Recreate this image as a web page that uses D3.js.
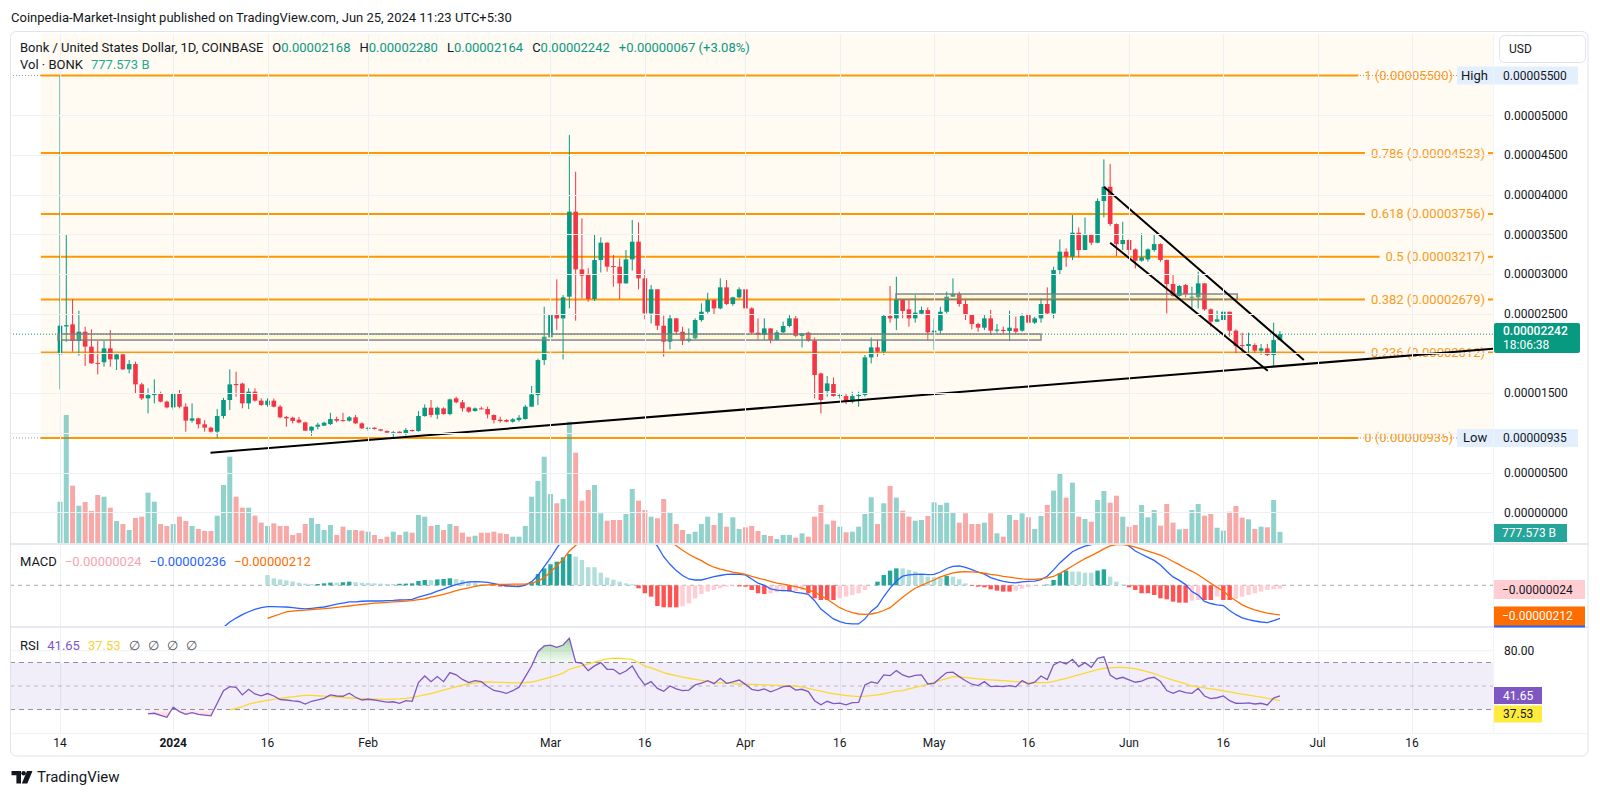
<!DOCTYPE html>
<html><head><meta charset="utf-8">
<script src="https://cdn.jsdelivr.net/npm/d3@7"></script>
<style>
html,body{margin:0;padding:0;background:#fff;}
svg{display:block;font-family:Roboto,"Noto Sans",Arial,sans-serif;}
</style></head><body>
<svg id="chart" width="1600" height="796"></svg>
<script>
// ---------- DATA (prices in units of 1e-8 USD, volume in billions BONK) ----------
const UNIT = 1e-8;
const startDay = [2023, 11, 14]; // first candle: 14 Dec 2023, daily candles
const openE8 = [1988,2340,2366,2156,2273,2085,1880,1888,2063,1925,
1988,1799,1866,1610,1434,1476,1490,1392,1320,1497,
1329,1153,1182,1107,1065,1014,1211,1413,1615,1620,
1371,1518,1405,1350,1405,1329,1200,1190,1165,1130,
1027,1077,1090,1110,1173,1160,1152,1195,1119,1050,
1064,1043,1022,1002,1014,985,1035,1022,1211,1316,
1228,1308,1236,1434,1384,1320,1274,1308,1300,1224,
1165,1161,1140,1161,1174,1329,1476,1916,2202,2483,
2441,2714,3785,3058,3000,2685,3176,3394,3100,3092,
2882,3184,3407,2945,2504,2807,2349,2148,2441,2273,
2160,2190,2420,2525,2672,2567,2832,2622,2706,2807,
2567,2261,2232,2315,2169,2265,2345,2441,2219,2261,
2160,1748,1526,1614,1463,1463,1392,1463,1476,1950,
2076,2022,2471,2441,2680,2555,2441,2500,2546,2265,
2286,2525,2714,2748,2622,2483,2370,2324,2441,2286,
2296,2282,2315,2286,2483,2387,2441,2622,2504,3050,
3281,3218,3520,3302,3490,3394,3919,4099,3629,3377,
3428,3310,3168,3184,3302,3377,3176,2874,2723,2861,
2706,2706,2882,2555,2399,2420,2525,2286,2105,2093,
2106,2034,2064,1980,2168];
const highE8 = [5500,3490,2681,2538,2336,2303,2156,2156,2294,2000,
2000,1917,1896,1631,1560,1673,1518,1405,1505,1539,
1371,1371,1190,1161,1077,1300,1440,1799,1770,1631,
1560,1560,1434,1434,1430,1350,1211,1203,1200,1140,
1080,1127,1140,1253,1203,1253,1211,1224,1131,1077,
1070,1048,1030,1022,1018,1060,1040,1274,1358,1413,
1329,1320,1430,1455,1413,1329,1320,1329,1329,1232,
1203,1170,1186,1224,1350,1589,1933,2588,2622,2932,
2735,4750,4288,3701,3071,3503,3461,3400,3239,3197,
3302,3680,3650,3058,2861,2807,2475,2483,2441,2336,
2315,2441,2630,2764,2680,2945,2924,2714,2832,2819,
2580,2441,2441,2315,2294,2400,2483,2471,2253,2273,
2202,1757,1715,1698,1497,1497,1518,1518,1980,2202,
2177,2483,2849,2966,2680,2672,2735,2588,2580,2441,
2588,2777,2945,2777,2672,2483,2387,2483,2546,2370,
2337,2538,2462,2504,2513,2462,2693,2832,3092,3436,
3323,3743,3587,3713,3503,3952,4444,4385,3637,3658,
3436,3323,3512,3323,3503,3386,3184,2987,2861,2874,
2840,3029,2882,2567,2538,2546,2525,2303,2261,2261,
2127,2118,2118,2387,2280];
const lowE8 = [1547,2147,2022,1971,1841,1870,1736,1833,1833,1791,
1791,1749,1497,1413,1245,1371,1383,1308,1287,1308,
1014,1128,1056,1014,1002,935,1180,1287,1455,1308,
1300,1392,1340,1329,1320,1182,1077,1119,1119,1022,
962,1043,1090,1098,1132,1140,1140,1110,1048,1022,
1040,1020,995,940,985,970,1014,1014,1203,1195,
1174,1228,1220,1371,1266,1253,1266,1295,1182,1119,
1127,1132,1127,1140,1165,1329,1350,1853,2076,2294,
1925,2567,2412,2693,2651,2660,3020,3029,2840,2685,
2880,3042,2807,2429,2378,2294,1958,2051,2231,2106,
2140,2177,2400,2504,2483,2555,2609,2600,2693,2483,
2253,2177,2168,2127,2160,2253,2328,2202,2076,2148,
1434,1245,1455,1455,1434,1363,1371,1329,1455,1874,
1958,1980,2387,2294,2441,2337,2387,2483,2168,2043,
2253,2504,2714,2588,2420,2303,2273,2294,2231,2261,
2253,2160,2253,2273,2370,2370,2387,2483,2441,3000,
3092,3176,3210,3302,3365,3386,3713,3604,3226,3302,
3239,3071,3155,3155,3281,3155,2504,2714,2714,2706,
2546,2567,2538,2337,2399,2420,2210,2001,2001,2001,
2001,1980,1967,1833,2164];
const closeE8 = [2349,2356,2156,2273,2085,1875,1870,2063,1925,1988,
1799,1866,1610,1434,1476,1490,1392,1320,1497,1329,
1153,1182,1107,1065,1014,1211,1413,1610,1600,1371,
1518,1405,1350,1405,1329,1195,1182,1150,1130,1027,
1077,1102,1127,1173,1152,1152,1195,1119,1056,1064,
1048,1027,1002,1006,993,1035,1022,1211,1316,1224,
1316,1236,1421,1384,1308,1266,1308,1300,1232,1161,
1148,1140,1170,1190,1329,1484,1916,2210,2483,2441,
2706,3785,3058,2979,2685,3176,3394,3092,3092,2882,
3184,3407,2945,2504,2807,2349,2148,2441,2273,2160,
2185,2420,2525,2672,2567,2832,2622,2706,2807,2567,
2261,2232,2315,2169,2265,2345,2441,2219,2250,2160,
1728,1413,1622,1463,1476,1392,1463,1476,1950,2076,
2022,2471,2441,2680,2534,2441,2513,2546,2265,2286,
2525,2714,2748,2622,2483,2370,2324,2441,2286,2300,
2282,2324,2273,2471,2387,2441,2622,2504,3050,3281,
3218,3520,3302,3490,3394,3919,4099,3629,3377,3428,
3302,3168,3210,3310,3377,3176,2874,2723,2849,2748,
2714,2882,2555,2399,2429,2525,2286,2093,2093,2118,
2034,2064,1980,2168,2242];
const volumeB = [2891,8960,4011,2611,2870,2240,3360,3241,2471,1540,
1330,910,1750,1841,3521,2891,1330,1190,1330,1841,
1540,1190,980,840,840,1911,4060,6041,3241,2471,
2471,1911,1421,1190,1379,1190,1190,560,700,1330,
1750,1330,910,1260,560,1141,910,910,861,791,
560,280,441,791,560,791,721,1960,1841,1190,
1260,910,1330,1190,721,441,511,721,721,791,
679,630,441,441,1190,3241,4340,6041,3430,2779,
3080,8491,6321,2961,3710,4060,2079,1561,1610,1610,
2030,3780,2961,2310,1841,1729,3080,2149,1330,910,
630,791,1330,1841,1260,2149,1141,1799,980,1099,
1190,840,560,490,280,560,560,371,679,441,
1841,2660,1309,1561,1141,749,791,1141,2030,3199,
1330,2779,3990,3171,2261,1841,1561,1610,1890,2849,
2660,2821,2149,1421,2079,1330,1330,1421,2079,679,
441,1960,1610,2079,1799,980,1890,2660,3661,4879,
3171,4221,1841,1680,1491,3010,3640,2821,3311,1841,
1141,1260,2660,1799,2310,1211,2730,1421,959,980,
2310,2730,1911,2030,1071,861,2191,2590,1771,1659,
980,1141,1099,3010,777.573];

// MACD (12,26,9) in units of 1e-8
const macdStart = 25;
const macdE8 = [-330,-300,-262,-234,-210,-189,-172,-160,-153,-152,
-154,-155,-160,-165,-169,-165,-160,-155,-145,-135,
-127,-118,-118,-114,-112,-111,-112,-110,-108,-105,
-104,-100,-85,-72,-60,-42,-28,-10,5,16,
24,26,25,21,12,3,-4,-8,-10,2,
26,70,133,195,265,330,450,480,500,485,
515,500,480,475,466,454,445,409,358,330,
280,204,150,105,70,45,38,38,50,62,
70,78,79,78,74,45,15,0,-25,-35,
-38,-38,-50,-56,-65,-110,-170,-205,-240,-260,
-272,-276,-276,-240,-185,-150,-80,-20,30,65,
75,78,80,76,78,95,120,135,138,128,
112,95,80,55,40,28,21,18,25,28,
30,40,65,110,160,200,240,262,280,290,
330,370,360,330,310,280,245,222,200,178,
145,100,60,35,5,-45,-70,-115,-130,-140,
-145,-180,-210,-232,-246,-255,-262,-266,-252,-236];
const signalStart = 33;
const signalE8 = [-236,-220,-205,-190,-184,-180,-177,-173,-170,-167,
-163,-158,-153,-148,-142,-137,-132,-128,-125,-122,
-119,-116,-113,-110,-103,-96,-85,-75,-64,-52,
-38,-28,-18,-8,-1,3,5,6,7,8,
8,9,15,30,55,95,140,185,245,285,
320,350,380,405,420,430,436,440,440,432,
418,398,370,345,315,282,250,222,198,176,
150,129,115,104,94,86,78,64,52,40,
28,16,8,0,-10,-20,-32,-50,-75,-100,
-130,-160,-180,-195,-205,-208,-205,-195,-180,-160,
-122,-85,-52,-21,0,20,38,60,75,88,
95,98,96,92,86,78,72,64,58,52,
46,43,43,47,53,63,85,110,138,165,
190,212,235,260,282,290,290,284,272,258,
244,230,216,195,170,148,122,100,75,45,
15,-15,-42,-80,-110,-140,-160,-175,-188,-198,
-206,-212];
const histStart = 33;
const histE8 = [73,50,42,35,27,18,12,8,9,14,
19,19,22,26,22,18,16,14,12,10,
10,11,12,14,31,38,38,42,45,50,
45,38,28,16,9,3,-4,-9,-10,-10,
-10,-2,19,80,121,150,169,200,224,205,
181,129,129,90,55,40,26,14,7,-21,
-57,-81,-148,-157,-157,-157,-150,-129,-93,-62,
-45,-33,-21,-10,-7,-8,-10,-33,-57,-62,
-57,-50,-45,-45,-40,-33,-57,-93,-105,-105,
-105,-93,-81,-70,-57,-33,0,26,74,105,
121,121,110,98,79,62,57,57,67,62,
43,14,-5,-10,-14,-29,-38,-45,-45,-38,
-24,-14,-5,0,5,38,86,105,98,98,
90,90,105,114,62,26,5,-14,-33,-57,
-57,-69,-93,-100,-117,-124,-124,-110,-105,-105,
-105,-80,-105,-105,-95,-81,-69,-57,-45,-33,
-28,-24];

// RSI(14) and its moving average
const rsiStart = 14;
const rsiValues = [26.2,26.8,25.0,23.4,31.9,28.2,25.8,27.3,25.9,25.3,
24.6,35.3,46.0,49.5,48.8,42.4,47.2,43.2,41.6,43.6,
41.5,38.5,38.1,37.3,36.8,34.6,37.0,38.1,39.5,42.4,
41.5,41.3,43.8,40.4,38.1,38.7,38.1,37.2,36.2,36.6,
35.3,37.5,37.0,52.9,58.5,53.7,58.0,53.7,61.4,59.5,
55.6,52.9,54.6,53.7,49.5,46.2,45.2,43.8,46.0,49.0,
58.0,67.0,79.2,84.1,84.8,82.9,84.9,90.6,70.2,69.3,
63.1,67.1,69.9,64.2,64.2,60.2,62.8,67.1,58.0,50.9,
53.7,48.0,45.5,50.0,47.5,46.0,46.5,50.9,52.5,54.5,
52.0,56.6,52.3,53.5,55.1,51.4,47.2,46.1,47.5,45.0,
47.0,49.5,50.0,46.5,47.2,45.2,37.5,34.0,37.0,35.0,
35.5,33.9,35.8,36.0,50.9,53.5,52.3,59.4,58.8,63.1,
59.4,57.5,59.0,59.4,51.7,52.3,57.0,61.4,61.8,58.0,
54.5,51.5,50.4,53.7,49.5,49.9,49.5,50.3,49.3,54.6,
51.7,53.2,58.5,55.5,67.9,70.7,68.8,72.7,66.5,69.9,
65.9,73.6,74.8,59.4,56.0,57.4,55.3,53.2,54.2,56.5,
57.4,53.8,46.1,43.8,46.1,44.3,43.8,48.0,41.5,39.2,
40.0,41.5,37.5,35.3,35.2,35.6,34.7,35.3,33.9,39.7,
41.65];
const rsiMaStart = 27;
const rsiMaValues = [29.6,31,32.5,34.5,35.8,36.8,37.8,38.6,39.5,40.2,
40.8,41.5,42.1,42,41.7,41.3,41,40.6,40.2,39.8,
39.5,39.2,39,38.8,38.7,38.7,38.8,39,39.4,40.2,
41.3,42.4,43.6,45,46.5,48,49.5,50.7,51.7,52.5,
53.2,53.4,53.3,53.1,52.9,52.7,52.6,52.9,53.4,54.5,
56,57.6,59,61,64.2,65.8,67.3,68.8,70.3,71.8,
73,73.6,73.6,73,72.6,70,67,65.5,63.5,61.4,
60,58.8,57.6,56.6,55.6,54.8,54,52.9,52.6,52.3,
52,51.7,51.5,51.3,51.1,50.9,50.7,50.5,50.3,50.2,
50,49.2,48,46.8,45.6,44.4,43.4,42.6,41.9,41.4,
41,41.3,41.8,42.4,43.4,44.6,45.6,46.1,47.5,48.8,
50.2,51.7,53.2,54.7,56.2,58,57.8,57.3,56.6,56.1,
55.6,55.2,54.9,54.6,54.2,53.8,53.4,52.9,52.9,52.9,
52.9,54,55.2,56.5,58,59.5,61,62.5,64,65.1,
65.5,65.8,65.9,65.4,64.6,63.5,62,60.5,58.5,56.6,
55,53.5,51.8,50,49.2,48.4,47.6,46.8,45.9,45,
44,43,42.2,41.4,40.6,39.5,38.7,37.53];

// Fibonacci retracement levels
const fibRatios = ["1","0.786","0.618","0.5","0.382","0.236","0"];
const fibPricesE8 = [5500,4523,3756,3217,2679,2012,935];

// Drawings (day index from first candle, price in 1e-8)
const supportLine = {days:[23.93,227.9], prices:[749,2058]};
const channelUpper = {days:[166,197.8], prices:[4099,1917]};
const channelLower = {days:[167,192.06], prices:[3394,1782]};
const zoneDays = [[-0.3,156.0],[132.95,187.2]];
const zonePrices = [[2168,2244],[2681,2748]];

// Axis ticks
const xTickDates = ["2023-12-14","2024-01-01","2024-01-16","2024-02-01","2024-03-01","2024-03-16","2024-04-01","2024-04-16","2024-05-01","2024-05-16","2024-06-01","2024-06-16","2024-07-01","2024-07-16"];
const xTickLabels = ["14","2024","16","Feb","Mar","16","Apr","16","May","16","Jun","16","Jul","16"];
const priceTicksE8 = [0,500,1500,2500,3000,3500,4000,4500,5000];

// ---------- LAYOUT ----------
const PL=10, PR=1493, AXR=1588;
const MAIN_T=34, MAIN_B=544, MACD_T=544, MACD_B=627, RSI_T=627, RSI_B=733, FRAME_B=756;
const DAY=864e5, T0=Date.UTC(startDay[0],startDay[1],startDay[2]);
const dateOf = d => new Date(T0 + d*DAY);
const x = d3.scaleUtc().domain([dateOf(0), new Date(Date.UTC(2024,6,16))]).range([60,1412]);
const yP = d3.scaleLinear().domain([0,5500*UNIT]).range([512.2,75.5]);
const yV = d3.scaleLinear().domain([0,10000]).range([543,543-142.86]);
const yM = d3.scaleLinear().domain([-300*UNIT,300*UNIT]).range([627.3,543.3]);
const yR = d3.scaleLinear().domain([10,100]).range([733,627.25]);
const xd = d => x(dateOf(d));

const GREEN="#089981", RED="#F23645", TXT="#131722";
const svg = d3.select("#chart");
const defs = svg.append("defs");
function clip(id,x0,y0,x1,y1){defs.append("clipPath").attr("id",id).append("rect").attr("x",x0).attr("y",y0).attr("width",x1-x0).attr("height",y1-y0);}
clip("cMain",PL,MAIN_T,PR,MAIN_B);
clip("cMacd",PL,MACD_T+1,PR,MACD_B);
clip("cRsi",PL,RSI_T+1,PR,RSI_B);
clip("cOB",PL,RSI_T,PR,yR(70));
clip("cOS",PL,yR(30),PR,RSI_B);

svg.append("rect").attr("width",1600).attr("height",796).attr("fill","#fff");

// Header
svg.append("text").attr("x",11).attr("y",17).attr("dominant-baseline","central")
  .attr("font-size",13).attr("fill",TXT)
  .text("Coinpedia-Market-Insight published on TradingView.com, Jun 25, 2024 11:23 UTC+5:30");

// Cream background of fib drawing
const gMain = svg.append("g").attr("clip-path","url(#cMain)");
gMain.append("rect").attr("x",xd(-3.05)).attr("y",MAIN_T).attr("width",PR-xd(-3.05))
  .attr("height",yP(935*UNIT)-MAIN_T).attr("fill","#fffaf2");

// grid
const grid = svg.append("g");
xTickDates.forEach(s=>{
  const xx = Math.round(x(new Date(s+"T00:00:00Z")))+0.5;
  grid.append("line").attr("x1",xx).attr("x2",xx).attr("y1",MAIN_T).attr("y2",RSI_B).attr("stroke","#eef0f4").attr("stroke-width",1);
});
priceTicksE8.concat([1000,2000]).forEach(v=>{
  const yy=Math.round(yP(v*UNIT))+0.5;
  grid.append("line").attr("x1",PL).attr("x2",PR).attr("y1",yy).attr("y2",yy).attr("stroke","#eef0f4");
});

// dotted High / Low lines
[5500,935].forEach(v=>{
  gMain.append("line").attr("x1",PL).attr("x2",PR).attr("y1",yP(v*UNIT)).attr("y2",yP(v*UNIT))
   .attr("stroke","#9598a1").attr("stroke-dasharray","1,2");
});

// fib lines + labels (labels of the 1 and 0 levels end before the High/Low tags)
const fibG = gMain.append("g");
fibPricesE8.forEach((v,k)=>{
  const yy = yP(v*UNIT);
  const edge = (k===0 || k===fibPricesE8.length-1) ? 1453 : 1485;
  const t = fibG.append("text").attr("x",edge).attr("y",yy).attr("dominant-baseline","central")
    .attr("text-anchor","end").attr("font-size",13).attr("fill","#f89c1c")
    .text(fibRatios[k]+" ("+(v*UNIT).toFixed(8)+")");
  const w = t.node().getComputedTextLength();
  fibG.append("line").attr("x1",xd(-3.05)).attr("x2",edge-w-6).attr("y1",yy).attr("y2",yy)
    .attr("stroke","#FF9800").attr("stroke-width",2);
  if (edge===1485) fibG.append("line").attr("x1",1488).attr("x2",PR).attr("y1",yy).attr("y2",yy)
    .attr("stroke","#FF9800").attr("stroke-width",2);
});

// volume
const n = closeE8.length;
const idx = d3.range(n);
gMain.append("g").selectAll("rect").data(idx).join("rect")
  .attr("x",i=>xd(i)-2.5).attr("width",5)
  .attr("y",i=>yV(volumeB[i])).attr("height",i=>yV(0)-yV(volumeB[i]))
  .attr("fill",i=>closeE8[i]>=openE8[i]?"rgba(38,166,154,0.5)":"rgba(239,83,80,0.5)");

// last price dotted line
gMain.append("line").attr("x1",PL).attr("x2",PR).attr("y1",yP(2242*UNIT)).attr("y2",yP(2242*UNIT))
  .attr("stroke",GREEN).attr("stroke-dasharray","1,2");

// candles
const cg = gMain.append("g");
cg.selectAll("rect.w").data(idx).join("rect").attr("class","w")
  .attr("x",i=>xd(i)-0.5).attr("width",1)
  .attr("y",i=>yP(highE8[i]*UNIT)).attr("height",i=>yP(lowE8[i]*UNIT)-yP(highE8[i]*UNIT))
  .attr("fill",i=>closeE8[i]>=openE8[i]?GREEN:RED);
cg.selectAll("rect.b").data(idx).join("rect").attr("class","b")
  .attr("x",i=>xd(i)-2.3).attr("width",4.6)
  .attr("y",i=>yP(Math.max(openE8[i],closeE8[i])*UNIT))
  .attr("height",i=>Math.max(1,Math.abs(yP(openE8[i]*UNIT)-yP(closeE8[i]*UNIT))))
  .attr("fill",i=>closeE8[i]>=openE8[i]?GREEN:RED);

// zones
zoneDays.forEach((d,k)=>{
  const p=zonePrices[k];
  gMain.append("rect").attr("x",xd(d[0])).attr("width",xd(d[1])-xd(d[0]))
    .attr("y",yP(p[1]*UNIT)).attr("height",yP(p[0]*UNIT)-yP(p[1]*UNIT))
    .attr("fill","rgba(255,241,118,0.2)").attr("stroke","rgba(120,123,134,0.85)").attr("stroke-width",1.6);
});

// trend lines
[supportLine,channelUpper,channelLower].forEach(L=>{
  gMain.append("line").attr("x1",xd(L.days[0])).attr("y1",yP(L.prices[0]*UNIT))
    .attr("x2",xd(L.days[1])).attr("y2",yP(L.prices[1]*UNIT))
    .attr("stroke","#000").attr("stroke-width",2);
});

// ---------- MACD pane ----------
const gM = svg.append("g").attr("clip-path","url(#cMacd)");
gM.append("line").attr("x1",PL).attr("x2",PR).attr("y1",yM(0)).attr("y2",yM(0))
  .attr("stroke","#9598a1").attr("stroke-dasharray","4,4").attr("opacity",0.8);
gM.selectAll("rect").data(histE8).join("rect")
  .attr("x",(v,k)=>xd(histStart+k)-2.2).attr("width",4.4)
  .attr("y",v=>yM(Math.max(v,0)*UNIT)).attr("height",v=>Math.abs(yM(v*UNIT)-yM(0)))
  .attr("fill",(v,k)=>{const p=k>0?histE8[k-1]:v; if(v>=0) return p<v?"#26A69A":"#B2DFDB"; return p<v?"#FFCDD2":"#FF5252";});
const lineM = d3.line().x(d=>xd(d[0])).y(d=>yM(d[1]*UNIT));
gM.append("path").attr("d",lineM(macdE8.map((v,k)=>[macdStart+k,v]))).attr("fill","none").attr("stroke","#2962FF").attr("stroke-width",1.3);
gM.append("path").attr("d",lineM(signalE8.map((v,k)=>[signalStart+k,v]))).attr("fill","none").attr("stroke","#FF6D00").attr("stroke-width",1.3);

// ---------- RSI pane ----------
const gR = svg.append("g").attr("clip-path","url(#cRsi)");
gR.append("line").attr("x1",PL).attr("x2",PR).attr("y1",yR(80)).attr("y2",yR(80)).attr("stroke","#eef0f4");
gR.append("rect").attr("x",PL).attr("width",PR-PL).attr("y",yR(70)).attr("height",yR(30)-yR(70)).attr("fill","rgba(126,87,194,0.1)");
[70,50,30].forEach(v=>{
  gR.append("line").attr("x1",PL).attr("x2",PR).attr("y1",yR(v)).attr("y2",yR(v))
   .attr("stroke","#787B86").attr("stroke-dasharray",v===50?"4,4":"5,4").attr("opacity",v===50?0.45:0.8);
});
const gradOB = defs.append("linearGradient").attr("id","gOB").attr("gradientUnits","userSpaceOnUse").attr("x1",0).attr("x2",0).attr("y1",yR(92)).attr("y2",yR(70));
gradOB.append("stop").attr("offset",0).attr("stop-color","rgba(76,175,80,0.55)");
gradOB.append("stop").attr("offset",1).attr("stop-color","rgba(76,175,80,0.05)");
const gradOS = defs.append("linearGradient").attr("id","gOS").attr("gradientUnits","userSpaceOnUse").attr("x1",0).attr("x2",0).attr("y1",yR(30)).attr("y2",yR(20));
gradOS.append("stop").attr("offset",0).attr("stop-color","rgba(242,54,69,0.05)");
gradOS.append("stop").attr("offset",1).attr("stop-color","rgba(242,54,69,0.35)");
const rsiPts = rsiValues.map((v,k)=>[rsiStart+k,v]);
gR.append("path").attr("clip-path","url(#cOB)").attr("fill","url(#gOB)")
  .attr("d",d3.area().x(d=>xd(d[0])).y0(yR(70)).y1(d=>yR(d[1]))(rsiPts));
gR.append("path").attr("clip-path","url(#cOS)").attr("fill","url(#gOS)")
  .attr("d",d3.area().x(d=>xd(d[0])).y0(yR(30)).y1(d=>yR(d[1]))(rsiPts));
const lineR = d3.line().x(d=>xd(d[0])).y(d=>yR(d[1]));
gR.append("path").attr("d",lineR(rsiMaValues.map((v,k)=>[rsiMaStart+k,v]))).attr("fill","none").attr("stroke","#FDD835").attr("stroke-width",1.3);
gR.append("path").attr("d",lineR(rsiPts)).attr("fill","none").attr("stroke","#7E57C2").attr("stroke-width",1.3);

// ---------- separators & frame ----------
[MACD_T,RSI_T].forEach(yy=>svg.append("line").attr("x1",PL).attr("x2",AXR).attr("y1",yy).attr("y2",yy).attr("stroke","#e6e9ef").attr("stroke-width",2));
svg.append("line").attr("x1",PL).attr("x2",AXR).attr("y1",RSI_B+0.5).attr("y2",RSI_B+0.5).attr("stroke","#f0f3fa");
svg.append("line").attr("x1",PR+0.5).attr("x2",PR+0.5).attr("y1",MAIN_T).attr("y2",RSI_B).attr("stroke","#f0f3fa");
svg.append("rect").attr("x",10.5).attr("y",31.5).attr("width",AXR-10.5).attr("height",FRAME_B-31.5)
  .attr("rx",6).attr("fill","none").attr("stroke","#e0e3eb");

// ---------- price axis ----------
const yAxis = d3.axisRight(yP).tickValues(priceTicksE8.map(v=>v*UNIT)).tickFormat(d=>d.toFixed(8)).tickSize(0).tickPadding(11);
const axG = svg.append("g").attr("transform",`translate(${PR},0)`).call(yAxis);
axG.select(".domain").remove();
axG.selectAll("text").attr("font-size",12).attr("fill",TXT).attr("font-family","Roboto, sans-serif");

function box(x0,yc,w,h,bg,fg,txt,opts={}){
  const g=svg.append("g");
  g.append("rect").attr("x",x0).attr("y",yc-h/2).attr("width",w).attr("height",h).attr("fill",bg).attr("rx",opts.rx||0);
  g.append("text").attr("x",x0+(opts.pad||10)).attr("y",yc).attr("dominant-baseline","central").attr("font-size",opts.fs||12)
    .attr("fill",fg).attr("font-weight",opts.fw||400).text(txt);
  return g;
}
// USD
svg.append("rect").attr("x",1499.5).attr("y",35.5).attr("width",86).attr("height",27).attr("rx",5).attr("fill","#fff").attr("stroke","#e0e3eb");
svg.append("text").attr("x",1509).attr("y",49).attr("dominant-baseline","central").attr("font-size",12).attr("fill",TXT).text("USD");
// High/Low
box(1457,yP(5500*UNIT),36,18,"#e3effd",TXT,"High",{pad:4,fs:13});
box(1494,yP(5500*UNIT),84,18,"#e3effd",TXT,"0.00005500",{pad:9});
box(1457,yP(935*UNIT),36,18,"#e3effd",TXT,"Low",{pad:6,fs:13});
box(1494,yP(935*UNIT),84,18,"#e3effd",TXT,"0.00000935",{pad:9});
// last price
svg.append("rect").attr("x",1494).attr("y",323).attr("width",86).attr("height",30).attr("rx",2).attr("fill",GREEN);
svg.append("text").attr("x",1503).attr("y",331).attr("dominant-baseline","central").attr("font-size",12).attr("fill","#fff").attr("font-weight",500).text("0.00002242");
svg.append("text").attr("x",1503).attr("y",345).attr("dominant-baseline","central").attr("font-size",12).attr("fill","#fff").text("18:06:38");
// volume
box(1494,533,73,18,"#26a69a","#fff","777.573 B",{pad:8});
// MACD labels
box(1494,589.5,91,19,"#FFCDD2",TXT,"\u22120.00000024",{pad:8});
svg.append("rect").attr("x",1494).attr("y",625).attr("width",91).attr("height",2.5).attr("fill","#2962FF");
box(1494,616,91,19,"#FF6D00","#fff","\u22120.00000212",{pad:8});
// RSI labels
svg.append("text").attr("x",1504).attr("y",yR(80)).attr("dominant-baseline","central").attr("font-size",12).attr("fill",TXT).text("80.00");
box(1494,695.5,48,17,"#7E57C2","#fff","41.65",{pad:9});
box(1494,714,48,17,"#FFEB3B",TXT,"37.53",{pad:9});

// ---------- x axis ----------
xTickDates.forEach((s,k)=>{
  svg.append("text").attr("x",x(new Date(s+"T00:00:00Z"))).attr("y",743).attr("text-anchor","middle")
   .attr("dominant-baseline","central").attr("font-size",12).attr("fill",TXT)
   .attr("font-weight",xTickLabels[k]==="2024"?700:400).text(xTickLabels[k]);
});

// ---------- legends ----------
const l1 = svg.append("text").attr("x",20).attr("y",47).attr("dominant-baseline","central").attr("font-size",13).attr("fill",TXT);
l1.append("tspan").text("Bonk / United States Dollar, 1D, COINBASE");
[["O","0.00002168"],["H","0.00002280"],["L","0.00002164"],["C","0.00002242"]].forEach(p=>{
  l1.append("tspan").attr("dx",9).text(p[0]);
  l1.append("tspan").attr("fill",GREEN).text(p[1]);
});
l1.append("tspan").attr("dx",9).attr("fill",GREEN).text("+0.00000067 (+3.08%)");
const l2 = svg.append("text").attr("x",20).attr("y",64).attr("dominant-baseline","central").attr("font-size",13).attr("fill",TXT);
l2.append("tspan").text("Vol \u00b7 BONK");
l2.append("tspan").attr("dx",8).attr("fill","#22ab94").text("777.573 B");
const l3 = svg.append("text").attr("x",20).attr("y",561).attr("dominant-baseline","central").attr("font-size",13).attr("fill",TXT);
l3.append("tspan").text("MACD");
l3.append("tspan").attr("dx",8).attr("fill","#f5a5ad").text("\u22120.00000024");
l3.append("tspan").attr("dx",8).attr("fill","#2962FF").text("\u22120.00000236");
l3.append("tspan").attr("dx",8).attr("fill","#FF6D00").text("\u22120.00000212");
const l4 = svg.append("text").attr("x",20).attr("y",645).attr("dominant-baseline","central").attr("font-size",13).attr("fill",TXT);
l4.append("tspan").text("RSI");
l4.append("tspan").attr("dx",8).attr("fill","#7E57C2").text("41.65");
l4.append("tspan").attr("dx",8).attr("fill","#F5D33A").text("37.53");
["\u2205","\u2205","\u2205","\u2205"].forEach(s=>l4.append("tspan").attr("dx",8).attr("fill","#50535e").text(s));

// ---------- TradingView logo ----------
const lg = svg.append("g").attr("fill",TXT);
lg.append("path").attr("d","M11.5,771 h9.5 v12.5 h-4.6 v-8.3 h-4.9 z");
lg.append("circle").attr("cx",23.6).attr("cy",773.3).attr("r",2.3);
lg.append("path").attr("d","M27,771 h5.5 l-5.2,12.5 h-5.5 z");
svg.append("text").attr("x",37).attr("y",777).attr("dominant-baseline","central").attr("font-size",15).attr("fill",TXT).text("TradingView");
</script>
</body></html>
